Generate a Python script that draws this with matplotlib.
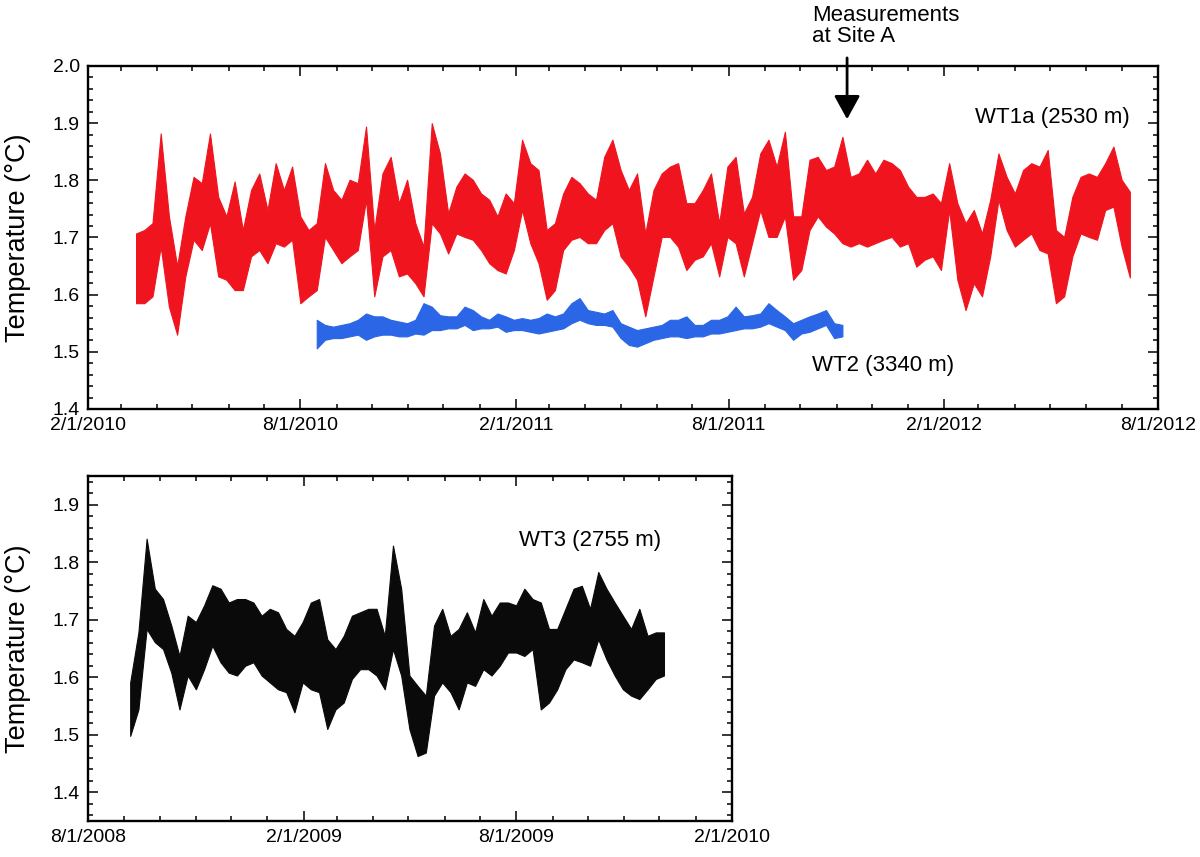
import numpy as np
import pandas as pd
import matplotlib
matplotlib.use('Agg')
import matplotlib.pyplot as plt
import matplotlib.dates as mdates
from matplotlib.ticker import MultipleLocator, FuncFormatter, FormatStrFormatter

plt.rcParams['font.family'] = ['Liberation Sans', 'DejaVu Sans']

# weekly envelopes (low / high), deg C
red_start = '2010-03-14'
red_hi = [1.707, 1.713, 1.725, 1.882, 1.737, 1.650, 1.737, 1.806, 1.795, 1.882,
          1.771, 1.737, 1.798, 1.713, 1.783, 1.812, 1.748, 1.830, 1.783, 1.824,
          1.737, 1.713, 1.725, 1.830, 1.783, 1.766, 1.801, 1.795, 1.894, 1.713,
          1.812, 1.841, 1.760, 1.801, 1.725, 1.684, 1.900, 1.847, 1.742, 1.789,
          1.812, 1.801, 1.777, 1.766, 1.737, 1.777, 1.760, 1.871, 1.830, 1.818,
          1.713, 1.725, 1.777, 1.806, 1.795, 1.777, 1.766, 1.841, 1.871, 1.818,
          1.783, 1.812, 1.707, 1.783, 1.812, 1.824, 1.830, 1.760, 1.760, 1.783,
          1.812, 1.725, 1.824, 1.841, 1.742, 1.771, 1.847, 1.871, 1.824, 1.885,
          1.737, 1.737, 1.836, 1.841, 1.818, 1.824, 1.876, 1.806, 1.812, 1.836,
          1.812, 1.836, 1.830, 1.818, 1.789, 1.771, 1.771, 1.777, 1.760, 1.830,
          1.760, 1.725, 1.748, 1.707, 1.766, 1.847, 1.806, 1.777, 1.818, 1.830,
          1.824, 1.853, 1.713, 1.701, 1.771, 1.806, 1.812, 1.806, 1.830, 1.859,
          1.801, 1.780]
red_lo = [1.585, 1.585, 1.597, 1.684, 1.579, 1.530, 1.632, 1.696, 1.678, 1.725,
          1.632, 1.626, 1.608, 1.608, 1.667, 1.678, 1.655, 1.690, 1.684, 1.696,
          1.585, 1.597, 1.608, 1.701, 1.678, 1.655, 1.667, 1.678, 1.766, 1.597,
          1.667, 1.678, 1.632, 1.637, 1.620, 1.597, 1.725, 1.707, 1.672, 1.707,
          1.701, 1.696, 1.678, 1.655, 1.643, 1.637, 1.678, 1.748, 1.690, 1.655,
          1.591, 1.608, 1.678, 1.696, 1.701, 1.690, 1.690, 1.713, 1.725, 1.667,
          1.649, 1.626, 1.562, 1.632, 1.701, 1.701, 1.684, 1.643, 1.661, 1.667,
          1.690, 1.632, 1.701, 1.690, 1.632, 1.690, 1.748, 1.701, 1.701, 1.737,
          1.626, 1.643, 1.713, 1.737, 1.719, 1.707, 1.690, 1.684, 1.690, 1.684,
          1.690, 1.696, 1.701, 1.684, 1.690, 1.649, 1.661, 1.667, 1.643, 1.748,
          1.626, 1.573, 1.620, 1.597, 1.667, 1.766, 1.713, 1.684, 1.696, 1.707,
          1.678, 1.672, 1.585, 1.597, 1.667, 1.707, 1.701, 1.696, 1.748, 1.754,
          1.684, 1.630]

blue_start = '2010-08-15'
blue_hi = [1.556, 1.547, 1.544, 1.547, 1.550, 1.556, 1.567, 1.562, 1.562, 1.556,
           1.553, 1.550, 1.556, 1.585, 1.579, 1.564, 1.562, 1.562, 1.579, 1.573,
           1.562, 1.556, 1.567, 1.562, 1.556, 1.559, 1.556, 1.559, 1.567, 1.562,
           1.567, 1.585, 1.594, 1.573, 1.570, 1.567, 1.573, 1.550, 1.544, 1.538,
           1.541, 1.544, 1.547, 1.556, 1.556, 1.562, 1.547, 1.547, 1.556, 1.556,
           1.562, 1.579, 1.562, 1.564, 1.567, 1.585, 1.573, 1.562, 1.550, 1.556,
           1.562, 1.567, 1.573, 1.550, 1.547]
blue_lo = [1.506, 1.521, 1.524, 1.524, 1.527, 1.530, 1.521, 1.527, 1.530, 1.530,
           1.527, 1.527, 1.532, 1.530, 1.538, 1.538, 1.541, 1.541, 1.547, 1.538,
           1.541, 1.541, 1.544, 1.535, 1.538, 1.538, 1.535, 1.532, 1.535, 1.538,
           1.541, 1.550, 1.556, 1.550, 1.547, 1.547, 1.544, 1.524, 1.512, 1.509,
           1.515, 1.521, 1.524, 1.527, 1.527, 1.524, 1.527, 1.527, 1.532, 1.532,
           1.535, 1.538, 1.541, 1.541, 1.544, 1.550, 1.544, 1.538, 1.521, 1.532,
           1.535, 1.541, 1.547, 1.524, 1.527]

black_start = '2008-09-06'
black_hi = [1.591, 1.678, 1.841, 1.754, 1.736, 1.690, 1.637, 1.707, 1.696, 1.725,
            1.760, 1.754, 1.730, 1.736, 1.736, 1.730, 1.707, 1.719, 1.713, 1.684,
            1.672, 1.696, 1.730, 1.736, 1.666, 1.649, 1.672, 1.707, 1.713, 1.719,
            1.719, 1.672, 1.829, 1.754, 1.603, 1.585, 1.568, 1.690, 1.719, 1.672,
            1.684, 1.713, 1.678, 1.736, 1.707, 1.730, 1.730, 1.725, 1.754, 1.736,
            1.730, 1.684, 1.684, 1.719, 1.754, 1.759, 1.719, 1.783, 1.754, 1.730,
            1.707, 1.684, 1.719, 1.672, 1.678, 1.678]
black_lo = [1.498, 1.544, 1.684, 1.661, 1.649, 1.608, 1.544, 1.603, 1.579, 1.614,
            1.655, 1.626, 1.608, 1.603, 1.620, 1.626, 1.603, 1.591, 1.579, 1.574,
            1.539, 1.591, 1.579, 1.574, 1.510, 1.544, 1.556, 1.597, 1.614, 1.614,
            1.603, 1.579, 1.649, 1.603, 1.510, 1.463, 1.469, 1.568, 1.591, 1.574,
            1.544, 1.591, 1.585, 1.614, 1.603, 1.620, 1.643, 1.643, 1.637, 1.649,
            1.544, 1.556, 1.579, 1.614, 1.631, 1.626, 1.620, 1.666, 1.631, 1.603,
            1.579, 1.568, 1.562, 1.579, 1.597, 1.603]

RED = '#f0141e'
BLUE = '#2a66e6'
BLACK = '#0a0a0a'


def mdy(x, pos=None):
    d = mdates.num2date(x)
    return f'{d.month}/{d.day}/{d.year}'


def band(ax, start, lo, hi, color):
    t = pd.date_range(start, periods=len(lo), freq='7D')
    ax.fill_between(t, lo, hi, color=color, lw=0.8)


def style(ax, x0, x1, y0, y1, labx):
    ax.set_xlim(pd.Timestamp(x0), pd.Timestamp(x1))
    ax.set_ylim(y0, y1)
    ax.xaxis.set_major_locator(mdates.MonthLocator(bymonth=[2, 8]))
    ax.xaxis.set_minor_locator(mdates.MonthLocator())
    ax.xaxis.set_major_formatter(FuncFormatter(mdy))
    ax.yaxis.set_major_locator(MultipleLocator(0.1))
    ax.yaxis.set_minor_locator(MultipleLocator(0.02))
    ax.yaxis.set_major_formatter(FormatStrFormatter('%.1f'))
    ax.tick_params(which='both', direction='in', top=True, right=True,
                   width=1.1, labelsize=14)
    ax.tick_params(which='major', length=7.5, pad=6)
    ax.tick_params(which='minor', length=3.8)
    for s in ax.spines.values():
        s.set_linewidth(1.7)
    ax.set_ylabel('Temperature (°C)', fontsize=19.5)
    ax.yaxis.set_label_coords(labx, 0.5)


fig = plt.figure(figsize=(12, 8.57), dpi=100)
ax1 = fig.add_axes([0.0733, 0.5228, 0.8917, 0.4002])
ax2 = fig.add_axes([0.0733, 0.0420, 0.5367, 0.4026])

band(ax1, red_start, red_lo, red_hi, RED)
band(ax1, blue_start, blue_lo, blue_hi, BLUE)
style(ax1, '2010-02-01', '2012-08-01', 1.4, 2.0, -0.053)

ax1.text(0.974, 0.851, 'WT1a (2530 m)', transform=ax1.transAxes,
         ha='right', va='center', fontsize=16)
ax1.text(0.6766, 0.128, 'WT2 (3340 m)', transform=ax1.transAxes,
         ha='left', va='center', fontsize=16)
ax1.text(0.6766, 1.178, 'Measurements\nat Site A', transform=ax1.transAxes,
         ha='left', va='top', fontsize=16, linespacing=1.0)
ax1.annotate('', xy=(pd.Timestamp('2011-11-10'), 1.902),
             xytext=(pd.Timestamp('2011-11-10'), 2.019),
             arrowprops=dict(arrowstyle='-|>,head_length=0.4,head_width=0.22',
                             mutation_scale=36, lw=2, color='black'),
             annotation_clip=False)

band(ax2, black_start, black_lo, black_hi, BLACK)
style(ax2, '2008-08-01', '2010-02-01', 1.35, 1.95, -0.0885)
ax2.text(0.669, 0.812, 'WT3 (2755 m)', transform=ax2.transAxes,
         ha='left', va='center', fontsize=16)

fig.savefig('out.png', dpi=100)
